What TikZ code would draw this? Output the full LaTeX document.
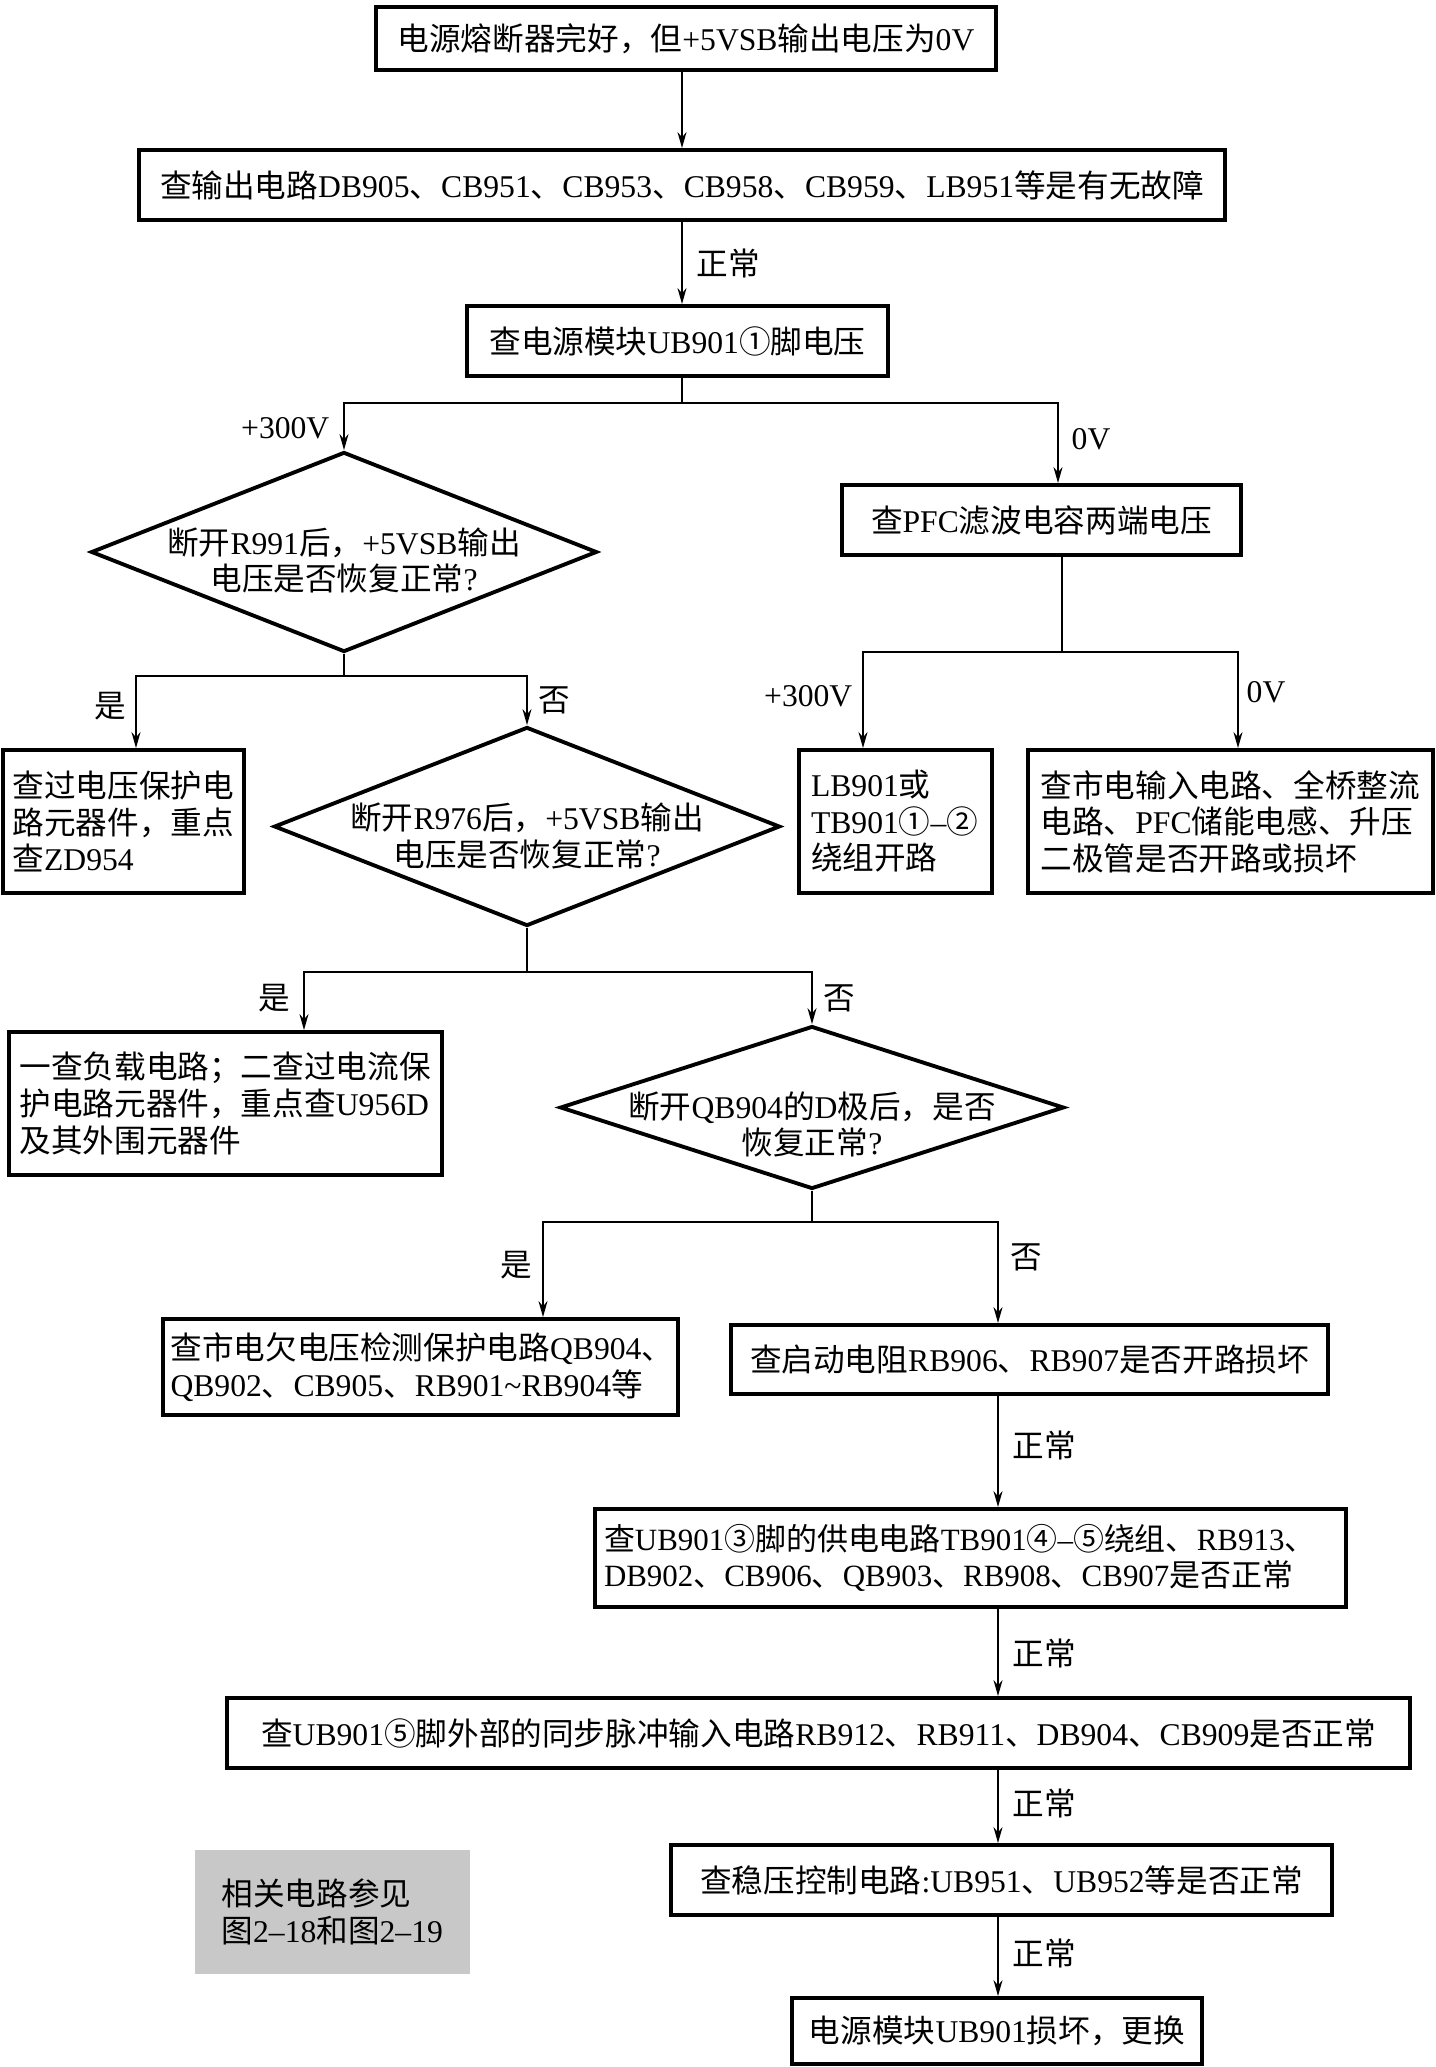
\documentclass[tikz,border=0pt]{standalone}
\usepackage{fontspec}
\setmainfont{Liberation Serif}
\newfontfamily\hanzi{Noto Sans CJK SC}
\newfontfamily\xiwen{Liberation Serif}
\usetikzlibrary{positioning,shapes.geometric,arrows.meta}
\definecolor{Chui}{RGB}{200,200,200}
% 汉字自动换用中文字体
\XeTeXinterchartokenstate=1
\newXeTeXintercharclass\Zhong
\newcommand\setzhong[2]{\count255=#1\relax
  \loop\XeTeXcharclass\count255=\Zhong
  \ifnum\count255<#2\relax\advance\count255 by 1\relax\repeat}
\setzhong{"2460}{"2473}
\setzhong{"3000}{"303F}
\setzhong{"4E00}{"9FFF}
\setzhong{"FF00}{"FFEF}
\XeTeXinterchartoks 0 \Zhong = {\hanzi}
\XeTeXinterchartoks 4095 \Zhong = {\hanzi}
\XeTeXinterchartoks \Zhong 0 = {\xiwen}
\XeTeXinterchartoks 4095 0 = {\xiwen}
\newcommand\zihao{\fontsize{9pt}{10.4pt}\selectfont}
% 菱形内文字下移用
\newcommand\dingkong[1]{\rule{0pt}{#1}}

\begin{document}
\begin{tikzpicture}[
    kuang/.style={draw, line width=1.1pt, inner sep=0pt, align=center, font=\zihao},
    lingxing/.style={draw, line width=1.1pt, diamond, aspect=2.5, inner sep=-3mm,
      align=center, font=\zihao},
    xian/.style={line width=0.5pt},
    jt/.style={line width=0.5pt, -{Stealth[length=1.6mm, width=0.9mm]}},
    biao/.style={inner sep=0pt, font=\zihao}]
  \useasboundingbox (0,0) rectangle (14.36,-20.67);
  % 上部
  \node[kuang, minimum width=6.20cm, minimum height=0.63cm] (kaishi) at (6.86,-0.385)
    {电源熔断器完好，但+5VSB输出电压为0V};
  \node[kuang, minimum width=10.86cm, minimum height=0.70cm] (chashuchu) at (6.82,-1.85)
    {查输出电路DB905、CB951、CB953、CB958、CB959、LB951等是有无故障};
  \node[kuang, minimum width=4.21cm, minimum height=0.70cm] (mokuai) at (6.775,-3.41)
    {查电源模块UB901①脚电压};
  % 两个分支
  \node[lingxing, minimum width=5.06cm, minimum height=2.00cm] (pd1) at (3.44,-5.52)
    {\dingkong{12.4pt}断开R991后，+5VSB输出\\电压是否恢复正常?};
  \node[kuang, minimum width=3.99cm, minimum height=0.70cm] (pfc) at (10.415,-5.20)
    {查PFC滤波电容两端电压};
  \node[kuang, minimum width=1.93cm, minimum height=1.43cm, text width=1.69cm, align=left]
    (lb) at (8.955,-8.215) {LB901或\\TB901①–②\\绕组开路};
  \node[kuang, minimum width=4.05cm, minimum height=1.43cm, text width=3.80cm, align=left]
    (shidian) at (12.305,-8.215)
    {查市电输入电路、全桥整流\\电路、PFC储能电感、升压\\二极管是否开路或损坏};
  \node[kuang, minimum width=2.41cm, minimum height=1.43cm, text width=2.22cm, align=left]
    (guoya) at (1.235,-8.215) {查过电压保护电\\路元器件，重点\\查ZD954};
  \node[lingxing, minimum width=5.06cm, minimum height=1.99cm] (pd2) at (5.27,-8.265)
    {\dingkong{13.1pt}断开R976后，+5VSB输出\\电压是否恢复正常?};
  \node[kuang, minimum width=4.33cm, minimum height=1.43cm, text width=4.12cm, align=left]
    (fuzai) at (2.255,-11.035)
    {一查负载电路；二查过电流保\\护电路元器件，重点查U956D\\及其外围元器件};
  \node[lingxing, minimum width=5.04cm, minimum height=1.49cm] (pd3) at (8.12,-11.075)
    {\dingkong{17.3pt}断开QB904的D极后，是否\\恢复正常?};
  \node[kuang, minimum width=5.15cm, minimum height=0.96cm, text width=5.00cm, align=left]
    (qianya) at (4.205,-13.67)
    {查市电欠电压检测保护电路QB904、\\QB902、CB905、RB901\textasciitilde RB904等};
  % 下部
  \node[kuang, minimum width=5.97cm, minimum height=0.69cm] (qidong) at (10.295,-13.595)
    {查启动电阻RB906、RB907是否开路损坏};
  \node[kuang, minimum width=7.51cm, minimum height=0.98cm, text width=7.33cm, align=left,
    font=\fontsize{8.8pt}{10.4pt}\selectfont] (gongdian) at (9.705,-15.58)
    {查UB901③脚的供电电路TB901④–⑤绕组、RB913、\\DB902、CB906、QB903、RB908、CB907是否正常};
  \node[kuang, minimum width=11.83cm, minimum height=0.70cm] (tongbu) at (8.185,-17.33)
    {查UB901⑤脚外部的同步脉冲输入电路RB912、RB911、DB904、CB909是否正常};
  \node[kuang, minimum width=6.61cm, minimum height=0.70cm] (wenya) at (10.015,-18.80)
    {查稳压控制电路:UB951、UB952等是否正常};
  \node[kuang, minimum width=4.10cm, minimum height=0.66cm] (huanxin) at (9.97,-20.31)
    {电源模块UB901损坏，更换};
  \node[fill=Chui, inner sep=0pt, minimum width=2.75cm, minimum height=1.24cm,
    text width=2.22cm, align=left, font=\zihao] (cankao) at (3.325,-19.12)
    {相关电路参见\\图2–18和图2–19};

  % 分叉点
  \coordinate (f1) at (6.82,-4.03);
  \coordinate (f1r) at (10.58,-4.03);
  \coordinate (f2) at (10.62,-6.52);
  \coordinate (f2l) at (8.63,-6.52);
  \coordinate (f2r) at (12.38,-6.52);
  \coordinate (f3) at (3.44,-6.76);
  \coordinate (f3l) at (1.36,-6.76);
  \coordinate (f4) at (5.27,-9.72);
  \coordinate (f4l) at (3.04,-9.72);
  \coordinate (f5) at (8.12,-12.22);
  \coordinate (f5l) at (5.43,-12.22);
  \coordinate (f5r) at (9.98,-12.22);

  % 连线
  \draw[jt] (kaishi.south -| chashuchu.north) -- (chashuchu.north);
  \draw[jt] (chashuchu.south) -- (chashuchu.south |- mokuai.north);
  \draw[xian] (mokuai.south -| f1) -- (f1);
  \draw[jt] (f1) -| (pd1.north);
  \draw[jt] (f1) -- (f1r) -- (f1r |- pfc.north);
  \draw[xian] (pfc.south -| f2) -- (f2);
  \draw[jt] (f2) -- (f2l) -- (f2l |- lb.north);
  \draw[jt] (f2) -- (f2r) -- (f2r |- shidian.north);
  \draw[xian] (pd1.south) -- (f3);
  \draw[jt] (f3) -- (f3l) -- (f3l |- guoya.north);
  \draw[jt] (f3) -| (pd2.north);
  \draw[xian] (pd2.south) -- (f4);
  \draw[jt] (f4) -- (f4l) -- (f4l |- fuzai.north);
  \draw[jt] (f4) -| (pd3.north);
  \draw[xian] (pd3.south) -- (f5);
  \draw[jt] (f5) -- (f5l) -- (f5l |- qianya.north);
  \draw[jt] (f5) -- (f5r) -- (f5r |- qidong.north);
  \foreach \a/\b in {qidong/gongdian, gongdian/tongbu, tongbu/wenya, wenya/huanxin}
    \draw[jt] (\a.south -| f5r) -- (\b.north -| f5r);

  % 线旁文字
  \node[biao, anchor=west] (zc1) at (6.96,-2.63) {正常};
  \node[biao, anchor=east] (dy1) at (3.30,-4.28) {+300V};
  \node[biao, anchor=west] (dy2) at (10.71,-4.39) {0V};
  \node[biao] (shi1) at (1.10,-7.06) {是};
  \node[biao] (fou1) at (5.54,-7.00) {否};
  \node[biao, anchor=east] (dy3) at (8.53,-6.96) {+300V};
  \node[biao, anchor=west] (dy4) at (12.46,-6.92) {0V};
  \node[biao] (shi2) at (2.74,-9.98) {是};
  \node[biao] (fou2) at (8.39,-9.98) {否};
  \node[biao] (shi3) at (5.16,-12.65) {是};
  \node[biao] (fou3) at (10.26,-12.57) {否};
  \node[biao, anchor=west] (zc2) at (10.12,-14.45) {正常};
  \node[biao, anchor=west] (zc3) at (10.12,-16.53) {正常};
  \node[biao, anchor=west] (zc4) at (10.12,-18.03) {正常};
  \node[biao, anchor=west] (zc5) at (10.12,-19.53) {正常};
\end{tikzpicture}
\end{document}
